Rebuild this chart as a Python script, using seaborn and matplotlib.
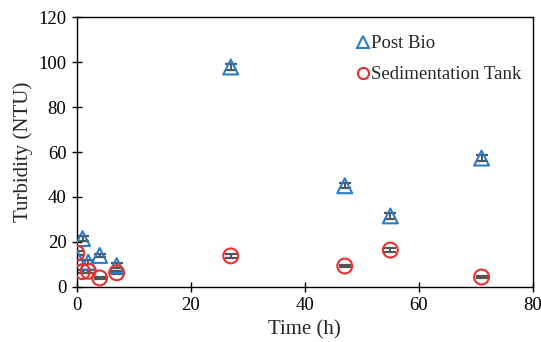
import numpy as np
import pandas as pd
import matplotlib
matplotlib.use('Agg')
import matplotlib.pyplot as plt
import seaborn as sns
from matplotlib.lines import Line2D

# Данные
time_post = [0, 1, 2, 4, 7, 27, 47, 55, 71]
turb_post = [13, 21.5, 11, 14, 9.5, 97.8, 45, 31.6, 57.3]
err_post = [1.0, 1.0, 1.0, 0.8, 1.0, 1.5, 1.2, 1.5, 1.2]

time_sed = [0, 1, 2, 4, 7, 27, 47, 55, 71]
turb_sed = [15, 6.8, 7, 4, 6.3, 13.8, 9.3, 16.4, 4.4]
err_sed = [0.8, 0.6, 0.6, 0.6, 0.6, 0.8, 0.6, 0.8, 0.5]

labels = ['Post Bio', 'Sedimentation Tank']
colors = ['#2a7dc7', '#e8302e']
markers = ['^', 'o']

sns.set_style('ticks')
plt.rcParams['font.family'] = ['Liberation Serif', 'DejaVu Serif']

df = pd.concat([
    pd.DataFrame({'time': time_post, 'turb': turb_post, 'err': err_post, 'series': labels[0]}),
    pd.DataFrame({'time': time_sed, 'turb': turb_sed, 'err': err_sed, 'series': labels[1]}),
])

fig = plt.figure(figsize=(5.41, 3.42), dpi=100)
ax = fig.add_axes([0.142, 0.161, 0.843, 0.789])

for lab, col, mk in zip(labels, colors, markers):
    d = df[df['series'] == lab]
    ax.errorbar(d['time'], d['turb'], yerr=d['err'], fmt='none',
                ecolor='#555555', elinewidth=1.4, capsize=4, capthick=1.6, zorder=2)
    sns.scatterplot(data=d, x='time', y='turb', marker=mk, s=115, ax=ax,
                    color=col, zorder=3, legend=False)
    coll = ax.collections[-1]
    coll.set_facecolor('none')
    coll.set_edgecolor(col)
    coll.set_linewidth(1.5)

ax.set_xlim(0, 80)
ax.set_ylim(0, 120)
ax.set_xticks(np.arange(0, 81, 20))
ax.set_yticks(np.arange(0, 121, 20))
ax.tick_params(direction='inout', length=7, width=1, labelsize=13.5, colors='black', pad=4)
for sp in ax.spines.values():
    sp.set_visible(True)
    sp.set_color('black')
    sp.set_linewidth(1)
ax.set_xlabel('Time (h)', fontsize=15)
ax.set_ylabel('Turbidity (NTU)', fontsize=15)

handles = [Line2D([], [], linestyle='none', marker=mk, markersize=8,
                  markerfacecolor='none', markeredgecolor=col, markeredgewidth=1.5)
           for col, mk in zip(colors, markers)]
ax.legend(handles, labels, loc='upper right', frameon=False, fontsize=13.5,
          handletextpad=0.05, labelspacing=0.75, handlelength=0.8,
          borderaxespad=0.2, bbox_to_anchor=(1.0, 0.975))

fig.savefig('out.png', dpi=100, facecolor='white')
plt.close(fig)
